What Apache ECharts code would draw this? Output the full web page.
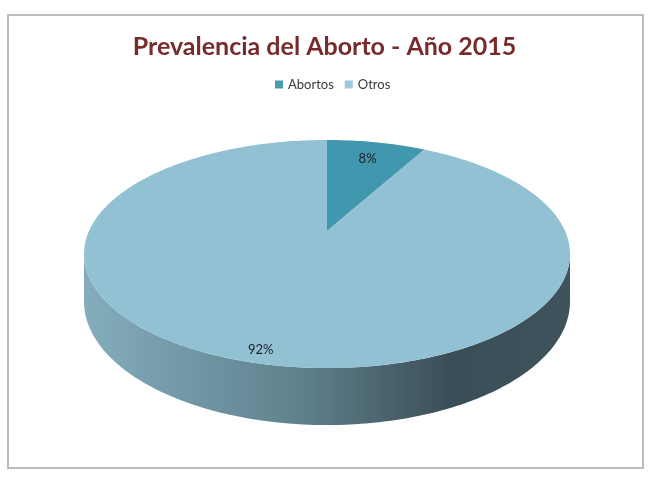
<!DOCTYPE html>
<html>
<head>
<meta charset="utf-8">
<script src="https://cdn.jsdelivr.net/npm/echarts@6.0.0/dist/echarts.min.js"></script>
<style>
  html, body { margin: 0; padding: 0; background: #fff; }
  #main { width: 649px; height: 477px; }
</style>
</head>
<body>
<div id="main"></div>
<script>
// data
var categories = ['Abortos', 'Otros'];
var values = [8, 92];
var sliceColors = ['#4197ae', '#92c1d3'];
var legendColors = ['#4a9bb1', '#9ecadb'];

/** 3d pie geometry (pixel space of the grid) */
var CX = 327, APEX_Y = 231;     // projected centre of the disc
var RX = 238, RY = 109.4;       // half axes before perspective
var PERSP = 0.2018;             // back of the disc is squeezed by this
var DEPTH = 45.5;               // wall height at the disc centre
var total = values.reduce(function (a, b) { return a + b; }, 0);

var sliceRange = function (i) {
    var start = 0;
    for (var k = 0; k < i; k++) start += values[k];
    return [start / total * Math.PI * 2, (start + values[i]) / total * Math.PI * 2];
};

// theta clockwise from the back (top) of the disc, r in 0..1, drop = wall offset
var project = function (api, theta, r, drop) {
    var u = r * Math.sin(theta), v = r * Math.cos(theta);
    var d = 1 + PERSP * v;
    return api.coord([CX + RX * u / d, APEX_Y - RY * v / d + drop / d]);
};

var arc = function (api, a0, a1, drop) {
    var pts = [];
    var n = Math.max(2, Math.ceil(Math.abs(a1 - a0) / (Math.PI / 180)));
    for (var k = 0; k <= n; k++) pts.push(project(api, a0 + (a1 - a0) * k / n, 1, drop));
    return pts;
};

var wallFill = new echarts.graphic.LinearGradient(85, 0, 572, 0, [
    { offset: 0, color: '#84adbc' },
    { offset: 0.45, color: '#5e808c' },
    { offset: 0.75, color: '#3b4e57' },
    { offset: 1, color: '#3e535c' }
], true);

var renderSlice = function (params, api) {
    var i = api.value(0);
    var r = sliceRange(i);
    var share = values[i] / total;
    var children = [];
    // front wall, only the part that faces the viewer
    var wL = Math.acos(-PERSP), wR = Math.PI * 2 - Math.acos(-PERSP);
    var w0 = Math.max(r[0], wL), w1 = Math.min(r[1], wR);
    if (w1 > w0) {
        var wall = arc(api, w0, w1, 0).concat(arc(api, w1, w0, DEPTH));
        children.push({ type: 'polygon', shape: { points: wall }, style: { fill: wallFill } });
    }
    // top face
    var top = [project(api, 0, 0, 0)].concat(arc(api, r[0], r[1], 0));
    children.push({ type: 'polygon', shape: { points: top }, style: { fill: sliceColors[i] } });
    // percent label, bigger slices push it further out
    var mid = (r[0] + r[1]) / 2;
    var lp = project(api, mid, 0.78 + 0.15 * share, 0);
    children.push({
        type: 'text', x: lp[0], y: lp[1],
        style: {
            text: Math.round(share * 100) + '%',
            fill: '#1f1f1f', font: '13px Lato', align: 'center', verticalAlign: 'middle'
        }
    });
    return { type: 'group', children: children };
};

var dom_pie = document.getElementById('main');
var myChart_pie = echarts.init(dom_pie);
var option_pie = {
    animation: false,
    backgroundColor: '#ffffff',
    title: {
        text: 'Prevalencia del Aborto - Año 2015',
        left: 'center',
        top: 29,
        textStyle: { color: '#772b2b', fontFamily: 'Lato', fontWeight: 'bold', fontSize: 25 }
    },
    legend: {
        data: categories,
        left: 270,
        top: 73,
        icon: 'rect',
        itemWidth: 8,
        itemHeight: 8,
        itemGap: 11,
        textStyle: { fontFamily: 'Lato', fontSize: 13, color: '#3a3a3a' }
    },
    grid: { left: 0, right: 0, top: 0, bottom: 0 },
    xAxis: { type: 'value', min: 0, max: 649, show: false },
    yAxis: { type: 'value', min: 0, max: 477, inverse: true, show: false },
    graphic: [{
        type: 'rect', silent: true,
        shape: { x: 8, y: 15, width: 635, height: 453 },
        style: { fill: 'none', stroke: '#a6a6a6', lineWidth: 1.5 }
    }],
    series: categories.map(function (name, i) {
        return {
            type: 'custom',
            name: name,
            renderItem: renderSlice,
            itemStyle: { color: legendColors[i] },
            data: [[i]],
            silent: true
        };
    })
};
myChart_pie.setOption(option_pie);
</script>
</body>
</html>
